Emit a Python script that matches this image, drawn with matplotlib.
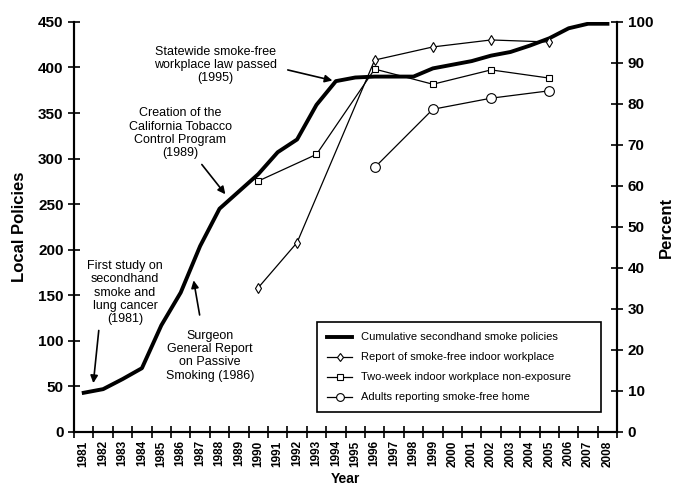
import numpy as np
import matplotlib
matplotlib.use("Agg")
import matplotlib.pyplot as plt

plt.rcParams["font.family"] = ["Liberation Sans", "DejaVu Sans"]

years = list(range(1981, 2009))
cumulative = [43, 47, 58, 70, 117, 153, 204, 245, 264, 283, 307, 321, 359, 385,
              389, 390, 390, 390, 399, 403, 407, 413, 417, 424, 432, 443, 448, 448]

workplace_years = [1990, 1992, 1996, 1999, 2002, 2005]
workplace_pct = [35.2, 46.2, 90.7, 93.9, 95.6, 95.1]

nonexp_years = [1990, 1993, 1996, 1999, 2002, 2005]
nonexp_pct = [61.2, 67.7, 88.5, 84.8, 88.3, 86.3]

home_years = [1996, 1999, 2002, 2005]
home_pct = [64.5, 78.7, 81.4, 83.2]

fig = plt.figure(figsize=(6.73, 4.87), dpi=100)
ax = fig.add_axes([0.11, 0.113, 0.807, 0.842])
ax2 = ax.twinx()

l0, = ax.plot(years, cumulative, "-", color="black", lw=2.8,
              label="Cumulative secondhand smoke policies")
l1, = ax2.plot(workplace_years, workplace_pct, "-", color="black", lw=0.9,
               marker="d", ms=5.5, mfc="white", mec="black", mew=0.8,
               label="Report of smoke-free indoor workplace")
l2, = ax2.plot(nonexp_years, nonexp_pct, "-", color="black", lw=0.9,
               marker="s", ms=5, mfc="white", mec="black", mew=0.8,
               label="Two-week indoor workplace non-exposure")
l3, = ax2.plot(home_years, home_pct, "-", color="black", lw=0.9,
               marker="o", ms=7, mfc="white", mec="black", mew=0.8,
               label="Adults reporting smoke-free home")

ax.set_xlim(1980.5, 2008.5)
ax.set_ylim(0, 450)
ax2.set_ylim(0, 100)
ax.set_yticks(range(0, 451, 50))
ax2.set_yticks(range(0, 101, 10))
ax.set_xticks(years)
ax.set_xticklabels([str(y) for y in years], rotation=90, fontsize=8.5, fontweight="bold")
ax.set_xticks(np.arange(1980.5, 2008.6, 1), minor=True)
ax.tick_params(axis="x", which="major", length=0, pad=6)
ax.tick_params(axis="x", which="minor", direction="inout", length=8, width=1.2)
ax.tick_params(axis="y", direction="inout", length=8, width=1.2, labelsize=11)
ax2.tick_params(axis="y", direction="inout", length=8, width=1.2, labelsize=11)
for lab in ax.get_yticklabels() + ax2.get_yticklabels():
    lab.set_fontweight("bold")

for a in (ax, ax2):
    a.spines["top"].set_visible(False)
    for s in ("left", "right", "bottom"):
        a.spines[s].set_linewidth(1.5)

ax.set_ylabel("Local Policies", fontsize=12, fontweight="bold", labelpad=8)
ax2.set_ylabel("Percent", fontsize=12, fontweight="bold", rotation=90, labelpad=4)
ax.set_xlabel("Year", fontsize=10, fontweight="bold", labelpad=4)

# annotations
txt = dict(ha="center", va="center", fontsize=9, linespacing=1.15)
arw = dict(arrowstyle="-|>", color="black", lw=1.2, mutation_scale=11)
ax.text(1987.77, 402.6, "Statewide smoke-free\nworkplace law passed\n(1995)", **txt)
ax.annotate("", xy=(1993.96, 385), xytext=(1991.38, 398), arrowprops=arw)
ax.text(1985.97, 327.8, "Creation of the\nCalifornia Tobacco\nControl Program\n(1989)", **txt)
ax.annotate("", xy=(1988.39, 258.5), xytext=(1987.0, 295.9), arrowprops=arw)
ax.text(1983.13, 152.9, "First study on\nsecondhand\nsmoke and\nlung cancer\n(1981)", **txt)
ax.annotate("", xy=(1981.48, 50.6), xytext=(1981.79, 114.4), arrowprops=arw)
ax.text(1987.51, 83.6, "Surgeon\nGeneral Report\non Passive\nSmoking (1986)", **txt)
ax.annotate("", xy=(1986.64, 169.4), xytext=(1987.0, 125.4), arrowprops=arw)

leg = ax2.legend([l0, l1, l2, l3], [l.get_label() for l in (l0, l1, l2, l3)],
                 loc="lower left", bbox_to_anchor=(0.438, 0.034, 0.542, 0.222),
                 mode="expand", fontsize=8, frameon=True, fancybox=False,
                 edgecolor="black", framealpha=1, handlelength=2.2,
                 borderpad=0.9, labelspacing=0.9, markerscale=0.8)
leg.get_frame().set_linewidth(1.2)

fig.savefig("out.png", dpi=100)
